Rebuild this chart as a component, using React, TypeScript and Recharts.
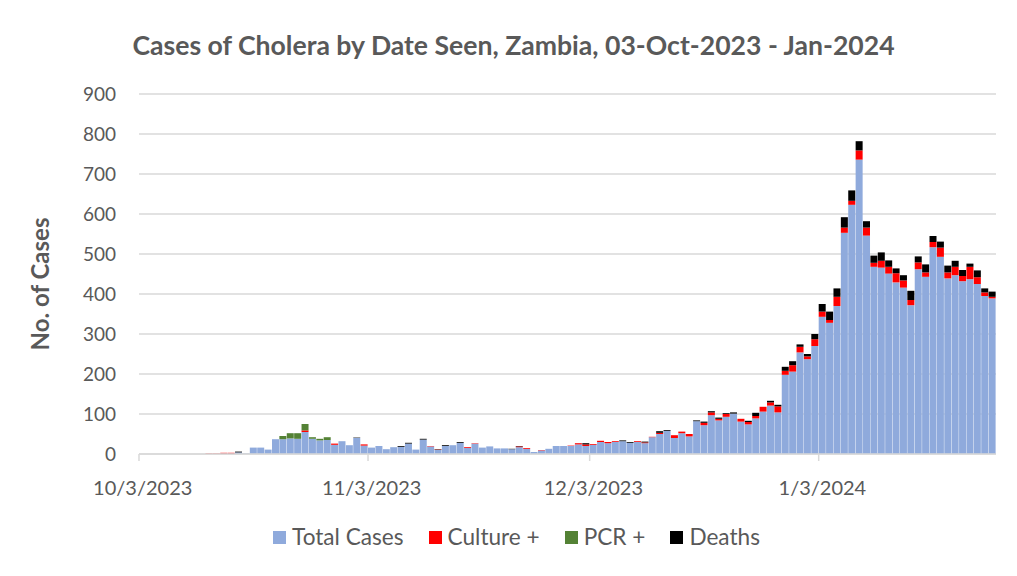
import React from "react";
import { BarChart, Bar, XAxis, YAxis, CartesianGrid } from "recharts";

// one bar per day, 03-Oct-2023 .. 26-Jan-2024
const START = new Date(2023, 9, 3);
const DAYS = 116;
const dates: string[] = [];
for (let i = 0; i < DAYS; i++) {
  const d = new Date(START.getFullYear(), START.getMonth(), START.getDate() + i);
  dates.push(`${d.getMonth() + 1}/${d.getDate()}/${d.getFullYear()}`);
}

const tickLabels = ["10/3/2023", "11/3/2023", "12/3/2023", "1/3/2024"];
const yTicks = [0, 100, 200, 300, 400, 500, 600, 700, 800, 900];

const totalCases = [
  0, 0, 0, 0, 0, 0, 0, 0, 0, 0,
  0, 1, 1, 4, 1, 16, 16, 11, 37, 37,
  39, 38, 55, 38, 34, 35, 23, 32, 22, 40,
  21, 16, 20, 12, 17, 18, 26, 11, 36, 19,
  10, 20, 22, 28, 15, 26, 16, 19, 14, 14,
  12, 17, 13, 5, 9, 13, 20, 20, 20, 24,
  20, 23, 30, 27, 30, 32, 28, 30, 27, 42,
  50, 58, 40, 52, 44, 82, 72, 97, 84, 93,
  101, 81, 74, 89, 106, 121, 104, 198, 206, 254,
  237, 270, 343, 328, 370, 553, 623, 736, 546, 468,
  466, 451, 429, 416, 372, 462, 443, 517, 493, 439,
  447, 432, 437, 425, 395, 389,
];

const culturePos = [
  0, 0, 0, 0, 0, 0, 0, 0, 0, 1,
  1, 2, 2, 0, 0, 0, 0, 0, 0, 0,
  0, 0, 4, 0, 0, 0, 3, 0, 0, 0,
  3, 0, 0, 0, 0, 0, 0, 0, 0, 1,
  1, 0, 0, 0, 2, 1, 0, 0, 0, 0,
  0, 2, 2, 0, 1, 0, 0, 0, 1, 3,
  4, 2, 3, 3, 2, 0, 0, 2, 2, 1,
  3, 0, 7, 4, 6, 0, 6, 7, 4, 7,
  0, 7, 6, 6, 12, 8, 15, 10, 16, 14,
  7, 17, 13, 7, 23, 13, 10, 23, 20, 10,
  17, 17, 23, 18, 13, 17, 11, 13, 23, 15,
  21, 13, 31, 17, 9, 4,
];

const pcrPos = [
  0, 0, 0, 0, 0, 0, 0, 0, 0, 0,
  0, 0, 0, 0, 0, 0, 0, 0, 0, 8,
  13, 14, 16, 4, 4, 7, 0, 0, 0, 0,
  0, 0, 0, 0, 0, 0, 0, 0, 0, 0,
  0, 0, 0, 0, 0, 0, 0, 0, 0, 0,
  0, 0, 0, 0, 0, 0, 0, 0, 0, 0,
  0, 0, 0, 0, 0, 0, 0, 0, 0, 0,
  0, 0, 0, 0, 0, 0, 0, 0, 0, 0,
  0, 0, 0, 0, 0, 0, 0, 0, 0, 0,
  0, 0, 0, 0, 0, 0, 0, 0, 0, 0,
  0, 0, 0, 0, 0, 0, 0, 0, 0, 0,
  0, 0, 0, 0, 0, 0,
];

const deaths = [
  0, 0, 0, 0, 0, 0, 0, 0, 0, 0,
  0, 0, 0, 2, 0, 0, 0, 0, 0, 0,
  0, 0, 0, 0, 0, 0, 0, 0, 0, 1,
  0, 0, 0, 0, 0, 2, 2, 0, 2, 0,
  1, 2, 0, 2, 0, 0, 0, 0, 0, 0,
  1, 1, 0, 0, 0, 0, 0, 0, 0, 0,
  3, 0, 0, 0, 0, 2, 2, 0, 2, 0,
  4, 2, 0, 0, 0, 2, 3, 3, 3, 2,
  3, 0, 3, 8, 0, 4, 4, 10, 10, 6,
  6, 13, 19, 21, 21, 26, 26, 23, 16, 18,
  21, 16, 12, 13, 23, 15, 20, 15, 15, 17,
  15, 15, 8, 17, 10, 13,
];

const data = dates.map((date, i) => ({
  date,
  total: totalCases[i],
  culture: culturePos[i],
  pcr: pcrPos[i],
  deaths: deaths[i],
}));

const FONT = "Lato, 'Noto Sans', sans-serif";
const TEXT = "#595959";

const legendItems = [
  { label: "Total Cases", color: "#8faadc" },
  { label: "Culture +", color: "#ff0000" },
  { label: "PCR +", color: "#548235" },
  { label: "Deaths", color: "#000000" },
];

function DateTick(props: any) {
  const { x, y, payload } = props;
  if (!tickLabels.includes(payload.value)) return null;
  return (
    <g>
      <line x1={x - 3.7} x2={x - 3.7} y1={y - 8} y2={y - 1} stroke="#d9d9d9" strokeWidth={1.5} />
      <text x={x} y={y + 33} textAnchor="middle" fill={TEXT} fontSize={20} fontFamily={FONT}>
        {payload.value}
      </text>
    </g>
  );
}

export default function App() {
  return (
    <div
      style={{
        position: "absolute",
        left: 0,
        top: 0,
        width: 1017,
        height: 576,
        background: "#fff",
        fontFamily: FONT,
      }}
    >
      <div
        style={{
          position: "absolute",
          top: 28,
          left: 5,
          width: 1017,
          textAlign: "center",
          fontSize: 26.6,
          fontWeight: 700,
          color: TEXT,
          lineHeight: "34px",
        }}
      >
        Cases of Cholera by Date Seen, Zambia, 03-Oct-2023 - Jan-2024
      </div>
      <div
        style={{
          position: "absolute",
          left: 39,
          top: 284,
          transform: "translate(-50%, -50%) rotate(-90deg)",
          whiteSpace: "nowrap",
          fontSize: 24,
          fontWeight: 700,
          color: TEXT,
        }}
      >
        No. of Cases
      </div>
      <BarChart
        width={1017}
        height={576}
        data={data}
        margin={{ top: 94, right: 21, bottom: 92, left: 0 }}
        barCategoryGap={0}
        barGap={0}
      >
        <CartesianGrid vertical={false} stroke="#d9d9d9" strokeWidth={1.5} />
        <XAxis
          dataKey="date"
          interval={0}
          tickLine={false}
          axisLine={{ stroke: "#d9d9d9", strokeWidth: 1.5 }}
          tick={<DateTick />}
          height={30}
        />
        <YAxis
          width={139}
          domain={[0, 900]}
          ticks={yTicks}
          interval={0}
          tickLine={false}
          axisLine={false}
          tickSize={0}
          tickMargin={23}
          tick={{ fill: TEXT, fontSize: 19, fontFamily: FONT }}
        />
        <Bar dataKey="total" name="Total Cases" stackId="a" fill="#8faadc" isAnimationActive={false} />
        <Bar dataKey="culture" name="Culture +" stackId="a" fill="#ff0000" isAnimationActive={false} />
        <Bar dataKey="pcr" name="PCR +" stackId="a" fill="#548235" isAnimationActive={false} />
        <Bar dataKey="deaths" name="Deaths" stackId="a" fill="#000000" isAnimationActive={false} />
      </BarChart>
      <div
        style={{
          position: "absolute",
          top: 524,
          left: 8,
          width: 1017,
          display: "flex",
          justifyContent: "center",
          gap: 25,
          fontSize: 22.6,
          color: TEXT,
          lineHeight: "26px",
        }}
      >
        {legendItems.map((it) => (
          <span key={it.label} style={{ display: "flex", alignItems: "center" }}>
            <span style={{ width: 13, height: 13, background: it.color, marginRight: 6 }} />
            {it.label}
          </span>
        ))}
      </div>
    </div>
  );
}
